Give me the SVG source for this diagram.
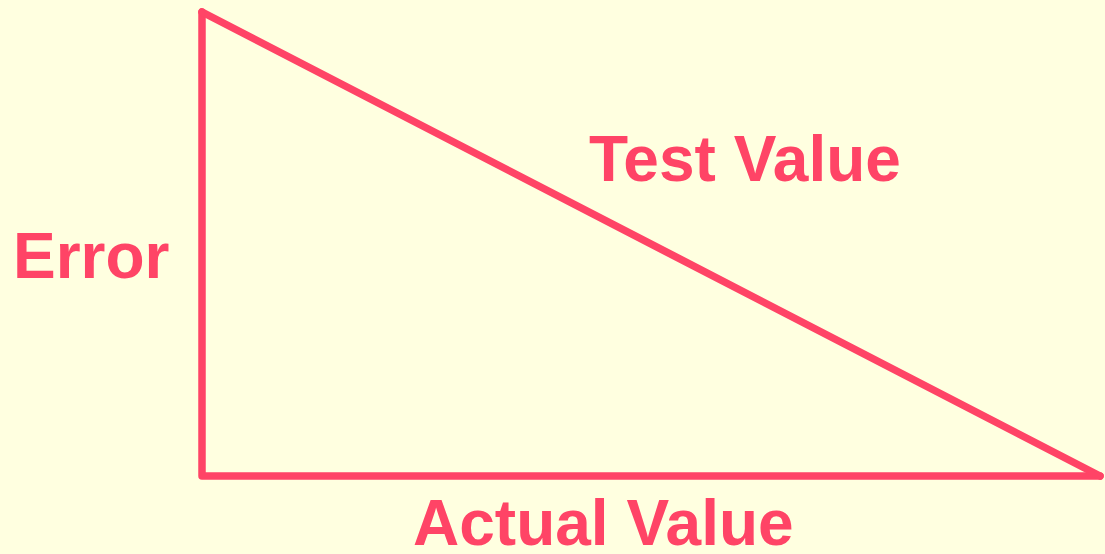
<svg xmlns="http://www.w3.org/2000/svg" width="1105" height="554" viewBox="0 0 1105 554">
<style>
.edge{fill:none;stroke:#ff4466;stroke-width:7.5;stroke-linecap:round;stroke-linejoin:round}
.lbl{font-family:"Liberation Sans",Arial,sans-serif;font-weight:bold;font-size:64px;fill:#ff4466}
</style>
<rect width="1105" height="554" fill="#ffffe0"/>
<g id="connectors">
<path class="edge" d="M202,12 L202,476 L1100,476"/>
<path class="edge" d="M202,12 L1100,476"/>
</g>
<g id="label-error"><text class="lbl" x="13" y="278">Error</text></g>
<g id="label-test"><text class="lbl" x="589" y="181">Test Value</text></g>
<g id="label-actual"><text class="lbl" x="413" y="545">Actual Value</text></g>
</svg>
